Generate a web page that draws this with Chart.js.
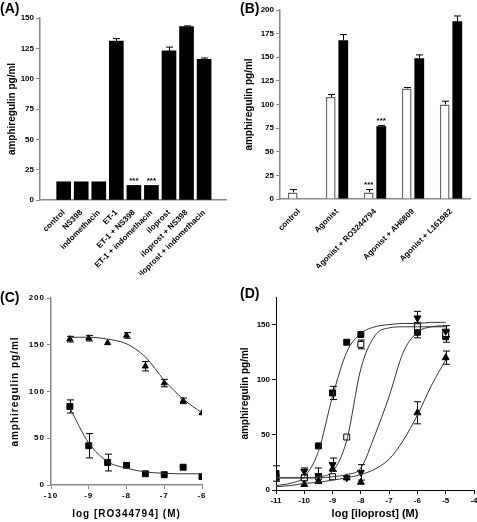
<!DOCTYPE html>
<html>
<head>
<meta charset="utf-8">
<script src="https://cdn.jsdelivr.net/npm/chart.js@4.4.0/dist/chart.umd.min.js"></script>
<style>
html, body { margin: 0; padding: 0; background: #fff; overflow: hidden; width: 477px; height: 522px; }
.panel { position: absolute; }
.lbl { position: absolute; font: bold 14px "Liberation Sans", Arial, sans-serif; color: #000; }
</style>
</head>
<body>
<canvas id="cA" class="panel" width="237" height="275" style="left:0;top:0"></canvas>
<canvas id="cB" class="panel" width="240" height="268" style="left:237px;top:0"></canvas>
<canvas id="cC" class="panel" width="237" height="250" style="left:0;top:272px"></canvas>
<canvas id="cD" class="panel" width="250" height="250" style="left:237px;top:272px"></canvas>
<div class="lbl" style="left:0;top:0">(A)</div>
<div class="lbl" style="left:240px;top:0">(B)</div>
<div class="lbl" style="left:0;top:289px">(C)</div>
<div class="lbl" style="left:240px;top:285px">(D)</div>
<script>
// ---- panel A
const catA = ['control', 'NS398', 'indomethacin', 'ET-1', 'ET-1 + NS398', 'ET-1 + indomethacin',
    'iloprost', 'iloprost + NS398', 'iloprost + indomethacin'];
const valA = [15, 15, 15, 131, 12, 12, 123, 143, 116];
const errA = [0, 0, 0, 2, 0, 0, 3, 0.5, 1];
const starsA = ['', '', '', '', '***', '***', '', '', ''];
const ticksA = [0, 25, 50, 75, 100, 125, 150];

// ---- panel B
const catB = ['control', 'Agonist', 'Agonist + RO3244794', 'Agonist + AH6809', 'Agonist + L161982'];
const openB = [7, 108, 7, 117, 100];
const openErrB = [3, 2.5, 3, 1, 3.5];
const openStarsB = ['', '', '***', '', ''];
const fillB = [null, 168, 77, 149, 188];
const fillErrB = [0, 6, 0.7, 3.5, 5.7];
const fillStarsB = ['', '', '***', '', ''];

// ---- panel C (log [RO344794])
const logC = [-9.5, -9, -8.5, -8, -7.5, -7, -6.5, -6];
const triC = [156, 157, 152, 160, 127, 109, 90, 77];
const triErrC = [3, 3, 0, 3, 5, 4, 3, 0];
const sqC = [84, 42, 24, 21, 12, 11, 19, 9];
const sqErrC = [7, 13, 9, 0, 0, 0, 0, 0];
const curveXC = [-9.5, -9, -8.5, -8, -7.5, -7, -6.5, -6];
const triCurveC = [158, 158, 156, 151, 137, 112, 92, 77];
const sqCurveC = [82, 45, 25, 18, 14, 12.5, 12, 12];

// ---- panel D (log [iloprost])
const logD = [-11, -10, -9.5, -9, -8.5, -8, -6, -5];
const fSqD = [15, 11, 40, 88, 134, 141, 143, 139];
const fSqErrD = [7, 0, 0, 6, 0, 0, 5, 5];
const oSqD = [11, 11, 12, 12, 48, 132, 148, 142];
const oSqErrD = [0, 0, 0, 0, 0, 4, 4, 3];
const invTriD = [12, 17, 13, 23, 11, 16, 156, 144];
const invTriErrD = [0, 3, 7, 6, 0, 7, 6, 5];
const triD = [11, 5, 8, 19, 11, 7, 70, 120];
const triErrD = [0, 0, 0, 0, 0, 0, 10, 6];
const curveXD = [-11, -10.5, -10, -9.5, -9, -8.5, -8, -7.5, -7, -6.5, -6, -5.5, -5];
const curve1D = [4, 6, 12, 35, 85, 125, 142, 148, 150, 151, 151, 152, 152];
const curve2D = [11, 11, 11, 12, 17, 45, 110, 140, 147, 148, 148, 148, 148];
const curve3D = [11, 11, 11, 11, 12, 14, 20, 50, 85, 125, 143, 148, 149];
const curve4D = [3, 4, 6, 7, 9, 11, 14, 19, 28, 45, 68, 95, 118];

const FONT = '"Liberation Sans", Arial, sans-serif';
const AXIS = '#888';

const errorBars = {
    id: 'errorBars',
    beforeDatasetsDraw(chart) {
        const ctx = chart.ctx;
        const ys = chart.scales.y;
        chart.data.datasets.forEach((ds, di) => {
            if (!ds.errors) return;
            const meta = chart.getDatasetMeta(di);
            ctx.save();
            ctx.strokeStyle = '#000';
            ctx.lineWidth = 1;
            meta.data.forEach((el, i) => {
                const p = meta.controller.getParsed(i);
                const e = ds.errors[i] || 0;
                if (!p || p.y == null || isNaN(p.y) || e <= 0) return;
                const x = Math.round(el.x) + 0.5;
                const top = ys.getPixelForValue(p.y + e);
                const bot = ys.getPixelForValue(ds.upOnly ? p.y : p.y - e);
                ctx.beginPath();
                ctx.moveTo(x, top); ctx.lineTo(x, bot);
                ctx.moveTo(x - 3.5, top); ctx.lineTo(x + 3.5, top);
                if (!ds.upOnly) { ctx.moveTo(x - 3.5, bot); ctx.lineTo(x + 3.5, bot); }
                ctx.stroke();
            });
            ctx.restore();
        });
    },
    afterDatasetsDraw(chart) {
        const ctx = chart.ctx;
        const ys = chart.scales.y;
        chart.data.datasets.forEach((ds, di) => {
            if (!ds.stars) return;
            const meta = chart.getDatasetMeta(di);
            ctx.save();
            ctx.fillStyle = '#000';
            ctx.font = 'bold 8px ' + FONT;
            ctx.textAlign = 'center';
            ctx.textBaseline = 'bottom';
            meta.data.forEach((el, i) => {
                if (!ds.stars[i]) return;
                const p = meta.controller.getParsed(i);
                const top = ys.getPixelForValue(p.y + (ds.errors[i] || 0));
                ctx.fillText(ds.stars[i], el.x, top - 1);
            });
            ctx.restore();
        });
    }
};

// panel C text is letter-spaced in the original
const spaced = {
    id: 'spaced',
    beforeUpdate(chart) { chart.ctx.letterSpacing = '1px'; },
    beforeDraw(chart) { chart.ctx.letterSpacing = '1px'; }
};

const tickFont = { family: FONT, size: 8, weight: 'bold' };
const titleFont = { family: FONT, size: 10, weight: 'bold' };

function yAxis(min, max, step, width, titlePad) {
    return {
        min: min, max: max,
        ticks: { stepSize: step, font: tickFont, color: '#000', padding: 2 },
        grid: { drawOnChartArea: false, tickLength: 4, color: AXIS },
        border: { color: AXIS, width: 1.5 },
        title: { display: true, text: 'amphiregulin pg/ml', font: titleFont, color: '#000', padding: { top: titlePad, bottom: 0 } },
        afterFit: s => { s.width = width; }
    };
}

const baseOpts = {
    responsive: false,
    animation: false,
    plugins: { legend: { display: false }, tooltip: { enabled: false } }
};

// ---- A
new Chart(document.getElementById('cA'), {
    type: 'bar',
    data: {
        datasets: [{
            data: valA.map((v, i) => ({ x: i, y: v })), errors: errA, stars: starsA, upOnly: true,
            backgroundColor: '#000', barThickness: 14
        }]
    },
    options: {
        ...baseOpts,
        layout: { padding: { top: 18, right: 11, left: 0, bottom: 0 } },
        scales: {
            x: {
                type: 'linear', min: -0.76, max: 8.66,
                afterBuildTicks: s => { s.ticks = catA.map((c, i) => ({ value: i })); },
                ticks: { font: tickFont, color: '#000', minRotation: 45, maxRotation: 45, autoSkip: false, padding: 0,
                         callback: v => catA[v] },
                grid: { display: false },
                border: { color: AXIS, width: 1.5 },
                afterFit: s => { s.height = 75; }
            },
            y: { ...yAxis(0, 150, 25, 40, 6), afterBuildTicks: s => { s.ticks = ticksA.map(v => ({ value: v })); } }
        }
    },
    plugins: [errorBars]
});

// ---- B
new Chart(document.getElementById('cB'), {
    type: 'bar',
    data: {
        labels: catB,
        datasets: [
            { data: openB, errors: openErrB, stars: openStarsB, upOnly: true,
              backgroundColor: '#fff', borderColor: '#666', borderWidth: 1.5 },
            { data: fillB, errors: fillErrB, stars: fillStarsB, upOnly: true,
              backgroundColor: '#000' }
        ]
    },
    options: {
        ...baseOpts,
        datasets: { bar: { categoryPercentage: 0.66, barPercentage: 0.78 } },
        layout: { padding: { top: 10, right: 7, left: 0, bottom: 0 } },
        scales: {
            x: {
                ticks: { font: tickFont, color: '#000', minRotation: 45, maxRotation: 45, autoSkip: false, padding: 0 },
                grid: { display: false },
                border: { color: AXIS, width: 1.5 },
                afterFit: s => { s.height = 69; }
            },
            y: yAxis(0, 200, 25, 43, 6)
        }
    },
    plugins: [errorBars]
});

function pts(xs, ys) { return xs.map((x, i) => ({ x: x, y: ys[i] })); }
function curve(xs, ys) {
    return { type: 'line', data: pts(xs, ys), borderColor: '#333', borderWidth: 1, pointRadius: 0,
             cubicInterpolationMode: 'monotone', fill: false };
}
function marks(xs, ys, errs, style, opts) {
    return Object.assign({ type: 'scatter', data: pts(xs, ys), errors: errs, pointStyle: style,
             pointRadius: 4, backgroundColor: '#000', borderColor: '#000', borderWidth: 1 }, opts || {});
}

// ---- C
new Chart(document.getElementById('cC'), {
    type: 'scatter',
    data: {
        datasets: [
            curve(curveXC, triCurveC),
            curve(curveXC, sqCurveC),
            marks(logC, triC, triErrC, 'triangle', { pointRadius: 3.5 }),
            marks(logC, sqC, sqErrC, 'rect', { pointRadius: 4.2 })
        ]
    },
    options: {
        ...baseOpts,
        layout: { padding: { top: 26, right: 35, left: 0, bottom: 0 } },
        scales: {
            x: {
                type: 'linear', min: -10, max: -6,
                ticks: { stepSize: 1, font: tickFont, color: '#000', padding: 2 },
                grid: { drawOnChartArea: false, tickLength: 4, color: AXIS },
                border: { color: AXIS, width: 1.5 },
                title: { display: true, text: 'log [RO344794] (M)', font: { family: FONT, size: 10, weight: 'bold' }, color: '#000', padding: 2 },
                afterFit: s => { s.height = 37; }
            },
            y: yAxis(0, 200, 50, 51, 9)
        }
    },
    plugins: [spaced, errorBars]
});

// ---- D
new Chart(document.getElementById('cD'), {
    type: 'scatter',
    data: {
        datasets: [
            curve(curveXD, curve1D),
            curve(curveXD, curve2D),
            curve(curveXD, curve3D),
            curve(curveXD, curve4D),
            marks(logD, triD, triErrD, 'triangle'),
            marks(logD, invTriD, invTriErrD, 'triangle', { rotation: 180 }),
            marks(logD, oSqD, oSqErrD, 'rect', { pointRadius: 4.2, backgroundColor: '#fff' }),
            marks(logD, fSqD, fSqErrD, 'rect', { pointRadius: 4.2 })
        ]
    },
    options: {
        ...baseOpts,
        layout: { padding: { top: 25, right: 13, left: 0, bottom: 0 } },
        scales: {
            x: {
                type: 'linear', min: -11, max: -4,
                ticks: { stepSize: 1, font: tickFont, color: '#000', padding: 2 },
                grid: { drawOnChartArea: false, tickLength: 4, color: '#000' },
                border: { color: '#000', width: 1 },
                title: { display: true, text: 'log [iloprost] (M)', font: { family: FONT, size: 11, weight: 'bold' }, color: '#000', padding: 1 },
                afterFit: s => { s.height = 32; }
            },
            y: Object.assign(yAxis(0, 175, 50, 39, 2), {
                grid: { drawOnChartArea: false, tickLength: 4, color: '#000' },
                border: { color: '#000', width: 1 },
                afterBuildTicks: s => { s.ticks = s.ticks.filter(t => t.value % 50 === 0); }
            })
        }
    },
    plugins: [errorBars]
});
</script>
</body>
</html>
